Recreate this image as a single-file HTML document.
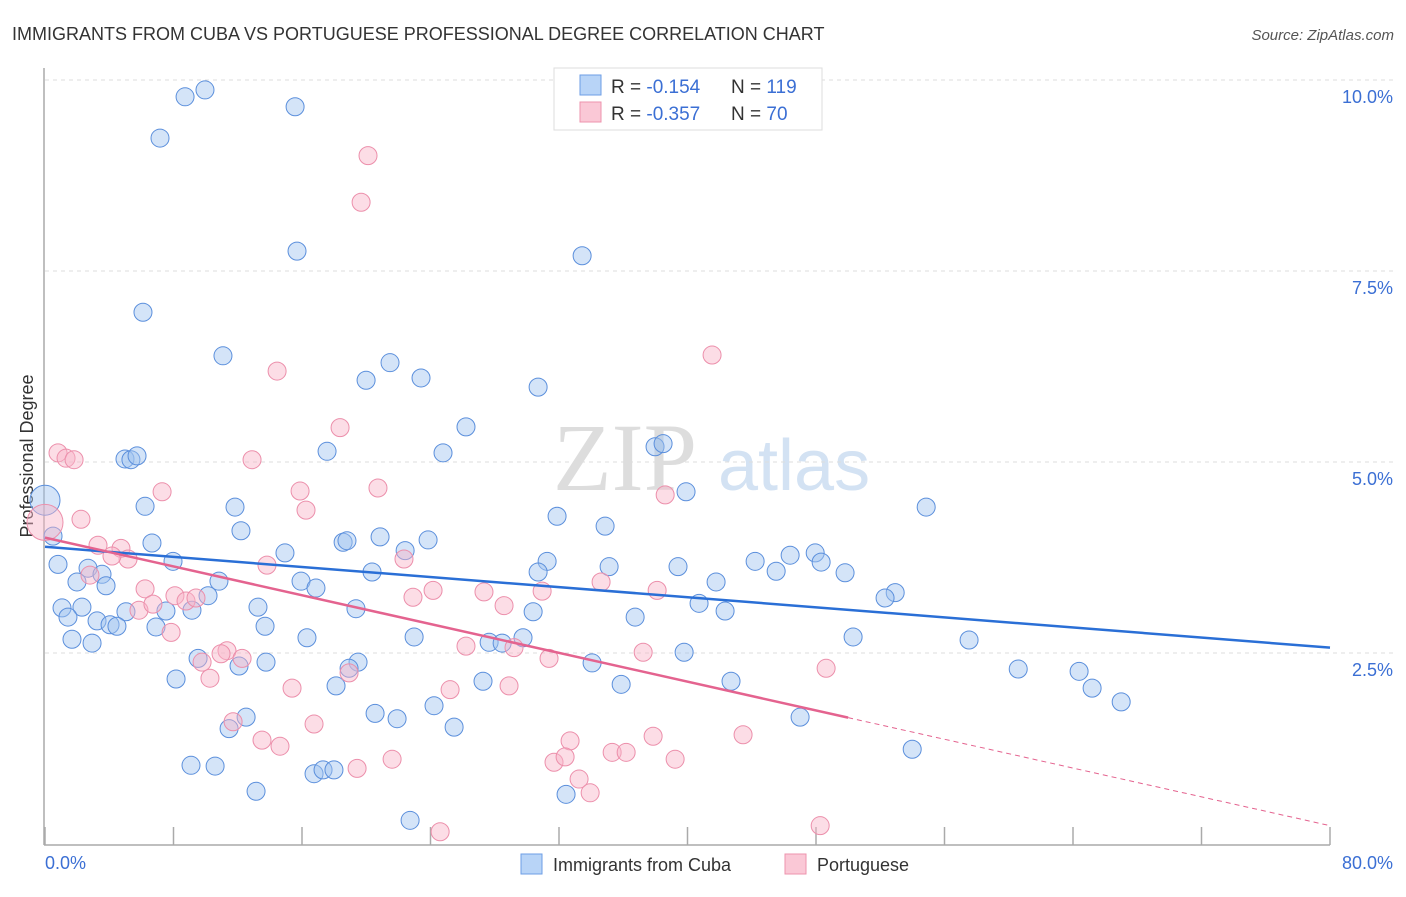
<!DOCTYPE html>
<html><head><meta charset="utf-8"><style>
body{margin:0;background:#fff;font-family:"Liberation Sans",sans-serif;}
svg text{font-family:"Liberation Sans",sans-serif;}
</style></head><body>
<svg id="chart" width="1406" height="892" viewBox="0 0 1406 892" xmlns="http://www.w3.org/2000/svg">
<text x="12" y="40" font-size="18" fill="#333">IMMIGRANTS FROM CUBA VS PORTUGUESE PROFESSIONAL DEGREE CORRELATION CHART</text>
<text x="1394" y="40" font-size="15" fill="#555" text-anchor="end" font-style="italic">Source: ZipAtlas.com</text>
<g>
<text x="553" y="490" font-size="96" fill="#ddd" font-family="Liberation Serif" style="font-family:'Liberation Serif',serif">ZIP</text>
<text x="718" y="490" font-size="72" fill="#d3e2f3">atlas</text>
</g>
<g id="grid"></g>
<line x1="44" y1="68" x2="44" y2="845" stroke="#aaa" stroke-width="1.5"/>
<line x1="44" y1="845" x2="1330" y2="845" stroke="#aaa" stroke-width="1.5"/>
<g id="ticks"></g>
<text transform="translate(33,456) rotate(-90)" font-size="18" fill="#333" text-anchor="middle">Professional Degree</text>
<text x="45" y="869" font-size="18" fill="#3b6fd4">0.0%</text>
<text x="1393" y="869" font-size="18" fill="#3b6fd4" text-anchor="end">80.0%</text>
<g id="points"></g>
<g id="lines"></g>
<g>
<rect x="554" y="68" width="268" height="62" fill="#fff" stroke="#ddd"/>
<rect x="580" y="75" width="21" height="20" fill="#b8d4f7" stroke="#6d9ee6"/>
<rect x="580" y="102" width="21" height="20" fill="#fac8d6" stroke="#ee93ad"/>
<text x="611" y="93" font-size="19" fill="#333">R = <tspan fill="#3b6fd4">-0.154</tspan><tspan x="731">N = </tspan><tspan fill="#3b6fd4">119</tspan></text>
<text x="611" y="120" font-size="19" fill="#333">R = <tspan fill="#3b6fd4">-0.357</tspan><tspan x="731">N = </tspan><tspan fill="#3b6fd4"> 70</tspan></text>
</g>
<g>
<rect x="521" y="854" width="21" height="20" fill="#b8d4f7" stroke="#6d9ee6"/>
<text x="553" y="871" font-size="18" fill="#333">Immigrants from Cuba</text>
<rect x="785" y="854" width="21" height="20" fill="#fac8d6" stroke="#ee93ad"/>
<text x="817" y="871" font-size="18" fill="#333">Portuguese</text>
</g>
</svg>
<script>
const yTicks=[2.5,5.0,7.5,10.0];
const yTickLabels=["2.5%","5.0%","7.5%","10.0%"];
const xTicks=[0,8,16,24,32,40,48,56,64,72,80];
const cubaX=[8.72,9.96,15.57,7.16,15.69,33.44,6.10,11.08,21.48,19.99,23.41,30.70,26.21,17.56,24.78,37.98,38.48,4.98,5.35,5.73,39.91,54.86,0,6.23,11.83,31.88,34.87,12.20,0.50,6.66,20.86,18.56,18.80,23.85,14.94,22.42,31.26,7.97,0.81,2.68,3.55,20.36,15.94,16.87,1.99,3.80,10.83,30.70,35.12,39.41,44.21,46.39,47.95,48.32,45.52,49.81,41.78,52.93,52.30,10.15,1.06,2.30,1.43,3.24,5.04,7.53,9.15,13.26,19.36,30.39,36.74,40.72,42.34,4.05,4.48,6.91,13.70,1.68,2.93,16.31,22.98,27.65,28.46,29.76,50.31,57.53,9.53,12.08,13.76,19.49,18.93,34.06,39.79,60.59,64.38,8.16,18.12,27.27,35.87,42.71,65.19,67.00,12.52,20.55,21.92,24.22,11.46,25.47,47.01,53.99,9.09,10.59,16.75,17.31,17.99,13.14,32.44,22.73];
const cubaY=[9.78,9.87,9.65,9.24,7.76,7.70,6.96,6.39,6.30,6.07,6.10,5.98,5.46,5.14,5.12,5.20,5.24,5.04,5.03,5.08,4.61,4.41,4.50,4.42,4.41,4.29,4.16,4.10,4.03,3.94,4.02,3.95,3.97,3.98,3.81,3.84,3.70,3.70,3.66,3.61,3.53,3.56,3.44,3.35,3.43,3.38,3.44,3.56,3.63,3.63,3.70,3.78,3.81,3.69,3.57,3.55,3.43,3.29,3.22,3.25,3.09,3.10,2.97,2.92,3.04,3.05,3.06,3.10,3.08,3.04,2.97,3.15,3.05,2.87,2.85,2.84,2.85,2.68,2.63,2.70,2.71,2.64,2.63,2.70,2.71,2.67,2.43,2.33,2.38,2.38,2.30,2.37,2.51,2.29,2.26,2.16,2.07,2.13,2.09,2.13,2.04,1.86,1.66,1.71,1.64,1.81,1.51,1.53,1.66,1.24,1.03,1.02,0.92,0.97,0.97,0.69,0.65,0.31];
const portX=[20.11,19.68,41.53,14.45,18.37,0.81,1.31,1.81,12.89,7.29,20.73,15.88,38.61,16.25,2.24,0,3.30,4.73,5.17,4.17,22.35,13.82,2.80,6.23,8.09,8.78,9.40,22.91,24.16,27.33,30.95,34.62,38.11,28.58,5.85,6.72,7.85,11.33,10.96,12.27,26.21,29.20,31.38,37.24,9.78,10.27,18.93,15.38,25.22,28.89,48.63,11.71,16.75,13.51,14.63,32.69,37.86,43.46,21.61,19.43,31.69,32.38,35.31,36.18,39.23,33.25,33.94,24.60,48.26];
const portY=[9.01,8.40,6.40,6.19,5.45,5.12,5.05,5.03,5.03,4.61,4.66,4.62,4.57,4.37,4.25,4.21,3.91,3.87,3.73,3.77,3.73,3.65,3.52,3.34,3.25,3.18,3.22,3.23,3.32,3.30,3.31,3.43,3.32,3.12,3.06,3.14,2.77,2.53,2.49,2.43,2.59,2.57,2.43,2.51,2.38,2.17,2.24,2.04,2.02,2.07,2.30,1.60,1.57,1.36,1.28,1.35,1.41,1.43,1.11,0.99,1.07,1.14,1.20,1.20,1.11,0.85,0.67,0.16,0.24];
const cubaTrend=[3.89,2.57];
const portTrend=[4.01,0.24];
const portSolidEnd=50;

const NS="http://www.w3.org/2000/svg";
const xs=v=>45+v/80*1285;
const ys=v=>844-v*76.4;
function mk(tag,attrs,parent){const e=document.createElementNS(NS,tag);for(const k in attrs)e.setAttribute(k,attrs[k]);parent.appendChild(e);return e;}
const grid=document.getElementById('grid');
yTicks.forEach((t,i)=>{
 const l=mk('line',{x1:45,x2:1395,y1:ys(t),y2:ys(t),stroke:'#ddd','stroke-dasharray':'4,4'},grid);
 
 
 const tx=mk('text',{x:1393,y:ys(t)+23,'font-size':18,fill:'#3b6fd4','text-anchor':'end'},grid);
 tx.textContent=yTickLabels[i];
 
 
});
const tk=document.getElementById('ticks');
xTicks.forEach(t=>{
 const l=mk('line',{x1:xs(t),x2:xs(t),y1:827,y2:845,stroke:'#aaa','stroke-width':1.5},tk);
 
 
});
const pts=document.getElementById('points');
function big(x,y){return x===0&&y>4;}
cubaX.forEach((x,i)=>{
 const c=mk('circle',{cx:xs(x),cy:ys(cubaY[i]),r:big(x,cubaY[i])?15:9,fill:'rgba(160,195,240,0.45)',stroke:'#5b8fdc','stroke-width':1},pts);
 
 
});
portX.forEach((x,i)=>{
 const c=mk('circle',{cx:xs(x),cy:ys(portY[i]),r:big(x,portY[i])?18:9,fill:'rgba(248,180,200,0.45)',stroke:'#ec8fab','stroke-width':1},pts);
 
 
});
const lg=document.getElementById('lines');
const bl=mk('line',{x1:xs(0),y1:ys(cubaTrend[0]),x2:xs(80),y2:ys(cubaTrend[1]),stroke:'#2a6fd6','stroke-width':2.5},lg);


const pAt=x=>portTrend[0]+(portTrend[1]-portTrend[0])*x/80;
const pl=mk('line',{x1:xs(0),y1:ys(portTrend[0]),x2:xs(portSolidEnd),y2:ys(pAt(portSolidEnd)),stroke:'#e4638f','stroke-width':2.5},lg);


const pd=mk('line',{x1:xs(portSolidEnd),y1:ys(pAt(portSolidEnd)),x2:xs(80),y2:ys(portTrend[1]),stroke:'#e4638f','stroke-width':1,'stroke-dasharray':'5,4'},lg);


</script>
</body></html>
